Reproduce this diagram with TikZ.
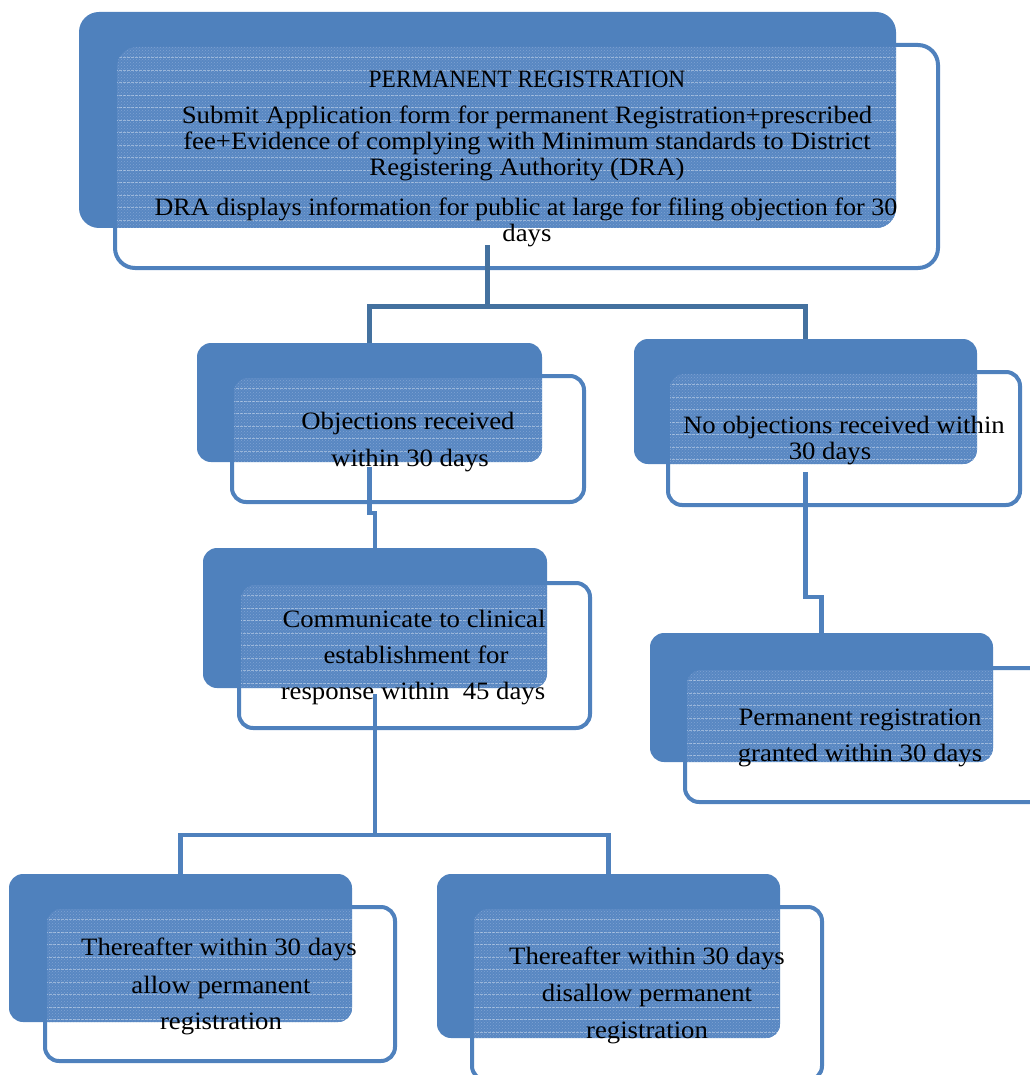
\documentclass[tikz,border=0pt]{standalone}
\usepackage{fontspec}
\setmainfont[FakeStretch=1.07]{Liberation Serif}
\usetikzlibrary{patterns}
\definecolor{backblue}{HTML}{4F81BD}
\definecolor{lineblue}{HTML}{4F81BD}
\definecolor{darkline}{HTML}{44719F}
\definecolor{overlapblue}{HTML}{5887C2}
\definecolor{dotblue}{HTML}{7FA2D2}
\tikzset{
  backbox/.style={rectangle, rounded corners=\rad pt, fill=backblue, draw=none, inner sep=0pt, outer sep=0pt},
  frontbox/.style={rectangle, rounded corners=\rad pt, fill=white, draw=lineblue, line width=4pt, inner sep=0pt, outer sep=0pt},
  stripe/.style={white, opacity=0.38, line width=0.7pt, dash pattern=on 2.5pt off 1.5pt},
  txt/.style={anchor=base, inner sep=0pt, font=\fontsize{25}{30}\selectfont, text=black},
  conn/.style={draw=lineblue, line width=4.5pt},
  conntop/.style={draw=darkline, line width=5pt},
}
\def\rad{14}
% name, bx1, by1, bx2, by2, fx1, fy1, fx2, fy2
\newcommand{\twobox}[9]{%
  \node[frontbox, minimum width={#8-#6}, minimum height={#9-#7}] (#1f) at ({(#6+#8)/2},{(#7+#9)/2}) {};
  \node[backbox, minimum width={#4-#2}, minimum height={#5-#3}] (#1b) at ({(#2+#4)/2},{(#3+#5)/2}) {};
  \begin{scope}
    \clip[rounded corners=\rad pt] (#1b.south west) rectangle (#1b.north east);
    \clip[rounded corners=\rad pt] ([shift={(2pt,-2pt)}]#1f.north west) rectangle ([shift={(-2pt,2pt)}]#1f.south east);
    \fill[overlapblue] (#1b.south west) rectangle (#1b.north east);
    \fill[pattern=crosshatch dots, pattern color=dotblue] (#1b.south west) rectangle (#1b.north east);
    \foreach \k in {1,...,24} {
      \draw[stripe] ([yshift=-\k*12.5pt]#1f.north west) -- ([yshift=-\k*12.5pt]#1f.north east);
    }
  \end{scope}
}
\begin{document}
\begin{tikzpicture}[x=1pt,y=-1pt]
\useasboundingbox (0,0) rectangle (1029,1075);

% boxes
\def\rad{20}
\twobox{n1}{79}{12}{896}{228}{115}{45}{938}{268}
\def\rad{14}
\twobox{n2}{197}{343}{542}{462}{232}{376}{584}{502}
\twobox{n4}{634}{339}{977}{464}{668}{372}{1020}{505}
\twobox{n3}{203}{548}{547}{688}{239}{583}{590}{728}
\twobox{n5}{650}{633}{993}{762}{685}{668}{1045}{802}
\twobox{n6}{9}{874}{352}{1022}{45}{907}{395}{1061}
\twobox{n7}{437}{874}{780}{1038}{472}{907}{822}{1080}

% texts
\node[txt] (t1a) at (527,88) {\scalebox{0.875}[1]{PERMANENT REGISTRATION}};
\node[txt] (t1b) at (527,124) {Submit Application form for permanent Registration+prescribed};
\node[txt] (t1c) at (527,150) {fee+Evidence of complying with Minimum standards to District};
\node[txt] (t1d) at (527,176) {Registering Authority (DRA)};
\node[txt] (t1e) at (526,215) {\scalebox{0.976}[1]{DRA displays information for public at large for filing objection for 30}};
\node[txt] (t1f) at (527,242) {days};

\node[txt] (t2a) at (408,429) {Objections received};
\node[txt] (t2b) at (410,466) {within 30 days};

\node[txt] (t4a) at (844,433) {No objections received within};
\node[txt] (t4b) at (830,459) {30 days};

\node[txt] (t3a) at (414,627) {Communicate to clinical};
\node[txt] (t3b) at (416,663) {establishment for};
\node[txt] (t3c) at (413,699) {response within\ \ 45 days};

\node[txt] (t5a) at (860,725) {Permanent registration};
\node[txt] (t5b) at (860,761) {granted within 30 days};

\node[txt] (t6a) at (219,955) {Thereafter within 30 days};
\node[txt] (t6b) at (221,993) {allow permanent};
\node[txt] (t6c) at (221,1029) {registration};

\node[txt] (t7a) at (647,964) {Thereafter within 30 days};
\node[txt] (t7b) at (647,1001) {disallow permanent};
\node[txt] (t7c) at (647,1038) {registration};

% connectors
\coordinate (c1) at ([yshift=-17pt]n1b.south);
\coordinate (j1) at (487.5,306);
\draw[conntop] (c1) -- (j1);
\draw[conntop] (n2b.north) |- (j1) -| (n4b.north);

\coordinate (c2) at ([yshift=-5pt]n2b.south);
\coordinate (j2) at (375,513);
\draw[conn] (c2) |- (j2) -- (n3b.north);

\coordinate (c4) at ([yshift=-8pt]n4b.south);
\coordinate (j4) at (821.5,597);
\draw[conn] (c4) |- (j4) -- (n5b.north);

\coordinate (c3) at ([yshift=-6pt]n3b.south);
\coordinate (j3) at (375,835);
\draw[conn] (c3) -- (j3);
\draw[conn] (n6b.north) |- (j3) -| (n7b.north);
\end{tikzpicture}
\end{document}
